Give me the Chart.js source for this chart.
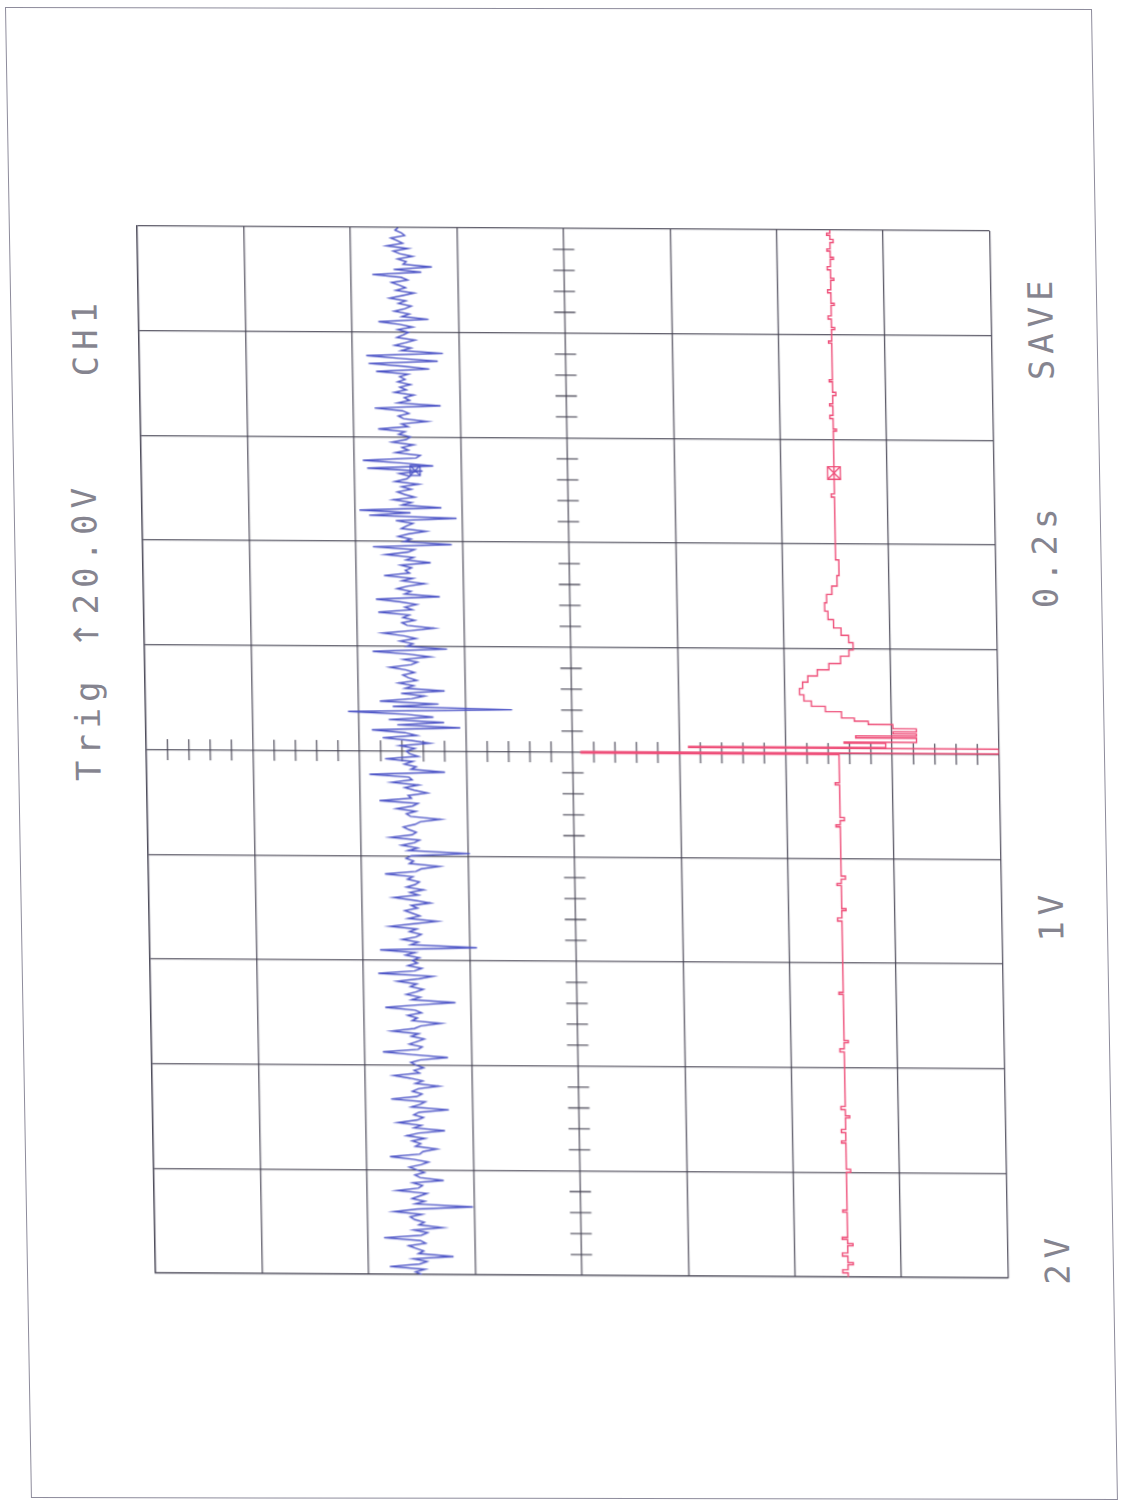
<!DOCTYPE html>
<html>
<head>
<meta charset="utf-8">
<title>CH1 / CH2 capture</title>
<script src="https://cdn.jsdelivr.net/npm/chart.js@4.4.1/dist/chart.umd.min.js"></script>
<style>
  html, body { margin: 0; padding: 0; background: #fff; }
  body { width: 1121px; height: 1502px; overflow: hidden; position: relative; }
  #frame { position: absolute; left: 5px; top: 7px; width: 1087px; height: 1491px;
    border: 1.3px solid #8e8c9c; box-sizing: border-box;
    transform-origin: 0 0; transform: matrix(1, 0.0018, 0.0174, 1, 0, 0); }
  /* the printout sits slightly askew on the page */
  #sheet { position: absolute; left: 0; top: 0; width: 1121px; height: 1502px;
    transform-origin: 137px 226px; transform: matrix(1, 0.0059, 0.0177, 1, 0, 0); }
  #plot { position: absolute; left: 123px; top: 212px; width: 879.5px; height: 1075px; }
  .lbl { position: absolute; font-family: "DejaVu Sans Mono", monospace; font-size: 34px;
    color: #85848f; white-space: pre; letter-spacing: 6px;
    transform: translate(-50%, -50%) rotate(-90deg); }
  .arrow { font-family: "DejaVu Sans", sans-serif; font-size: 34px; }
</style>
</head>
<body>
<div id="frame"></div>
<div id="sheet">
  <div id="plot"><canvas id="scope"></canvas></div>
  <div class="lbl" style="left:79px; top:632px;">Trig <span class="arrow">↑</span>20.0V</div>
  <div class="lbl" style="left:83px; top:337px;">CH1</div>
  <div class="lbl" style="left:1039px; top:1253px;">2V</div>
  <div class="lbl" style="left:1039px; top:910px;">1V</div>
  <div class="lbl" style="left:1039px; top:550px;">0.2s</div>
  <div class="lbl" style="left:1039px; top:322px;">SAVE</div>
</div>
<script>
// screen is 8 x 10 divisions; values below are in divisions
const VOLT_MIN = -4, VOLT_MAX = 4;
const TIME_MIN = 0, TIME_MAX = 10;

// upper trace, one sample every 0.025 div
const blueStep = 0.025;
const blueTrace = [
  1.50, 1.56, 1.47, 1.80, 1.52, 1.45, 1.58, 1.20, 1.53, 1.48,
  1.55, 1.62, 1.46, 1.51, 1.85, 1.50, 1.44, 1.57, 1.30, 1.52,
  1.47, 1.56, 1.60, 1.49, 1.75, 1.53, 1.01, 1.55, 1.46, 1.58,
  1.51, 1.44, 1.72, 1.52, 1.48, 1.57, 1.28, 1.50, 1.55, 1.46,
  1.53, 1.60, 1.49, 1.42, 1.56, 1.78, 1.50, 1.47, 1.34, 1.54,
  1.49, 1.57, 1.45, 1.62, 1.51, 1.26, 1.55, 1.48, 1.70, 1.52,
  1.46, 1.55, 1.50, 1.22, 1.57, 1.49, 1.44, 1.76, 1.52, 1.47,
  1.56, 1.50, 1.31, 1.53, 1.46, 1.58, 1.73, 1.49, 1.54, 1.45,
  1.52, 1.57, 1.48, 1.22, 1.55, 1.83, 1.50, 1.46, 1.58, 1.51,
  1.44, 1.56, 1.49, 1.74, 1.53, 1.47, 1.28, 1.55, 1.50, 1.59,
  1.46, 1.52, 1.80, 1.49, 1.14, 1.55, 1.47, 1.60, 1.51, 1.44,
  1.56, 1.50, 1.68, 1.48, 1.35, 1.86, 1.52, 1.45, 1.58, 1.49,
  1.54, 1.47, 1.60, 1.51, 1.84, 0.93, 1.55, 1.48, 1.63, 1.50,
  1.45, 1.56, 1.49, 1.74, 1.52, 1.30, 1.57, 1.46, 1.53, 1.60,
  1.48, 1.54, 1.36, 1.51, 1.70, 1.47, 1.55, 1.42, 1.58, 1.50,
  1.46, 1.57, 1.52, 1.78, 1.49, 1.44, 1.27, 1.55, 1.51, 1.58,
  1.53, 0.98, 1.56, 1.47, 1.62, 1.50, 1.45, 1.72, 1.52, 1.48,
  1.55, 1.60, 1.49, 1.44, 1.25, 1.53, 1.57, 1.48, 1.66, 1.51,
  1.46, 1.82, 1.52, 1.55, 1.37, 1.49, 1.58, 1.45, 1.70, 1.51,
  1.54, 1.91, 1.20, 1.52, 1.47, 1.58, 1.50, 1.76, 1.45, 1.53,
  1.56, 1.48, 1.62, 1.34, 1.51, 1.78, 1.46, 1.57, 1.88, 1.05,
  1.64, 1.20, 1.72, 1.30, 1.55, 2.10, 0.56, 1.68, 1.25, 1.80,
  1.50, 1.38, 1.60, 1.19, 1.56, 1.48, 1.62, 1.45, 1.53, 1.58,
  1.47, 1.55, 1.70, 1.50, 1.44, 1.57, 1.32, 1.52, 1.86, 1.16,
  1.54, 1.48, 1.60, 1.45, 1.56, 1.76, 1.50, 1.28, 1.53, 1.58,
  1.46, 1.57, 1.51, 1.80, 1.48, 1.55, 1.44, 1.60, 1.82, 1.22,
  1.55, 1.49, 1.62, 1.52, 1.36, 1.57, 1.47, 1.74, 1.50, 1.54,
  1.48, 1.58, 1.30, 1.53, 1.46, 1.72, 1.51, 1.45, 1.84, 1.10,
  1.55, 1.48, 1.60, 1.50, 1.34, 1.57, 1.52, 1.46, 1.62, 1.05,
  1.87, 1.48, 1.96, 1.19, 1.56, 1.47, 1.64, 1.44, 1.53, 1.60,
  1.47, 1.56, 1.40, 1.62, 1.51, 1.48, 1.58, 1.36, 1.88, 1.26,
  1.53, 1.92, 1.42, 1.38, 1.61, 1.49, 1.55, 1.44, 1.64, 1.51,
  1.47, 1.58, 1.52, 1.77, 1.49, 1.55, 1.31, 1.53, 1.58, 1.48,
  1.54, 1.80, 1.18, 1.58, 1.47, 1.52, 1.43, 1.61, 1.50, 1.56,
  1.46, 1.58, 1.51, 1.56, 1.48, 1.78, 1.28, 1.52, 1.85, 1.20,
  1.56, 1.87, 1.15, 1.54, 1.45, 1.60, 1.50, 1.41, 1.58, 1.52,
  1.47, 1.57, 1.43, 1.55, 1.75, 1.28, 1.53, 1.46, 1.60, 1.50,
  1.44, 1.56, 1.49, 1.64, 1.52, 1.41, 1.58, 1.49, 1.55, 1.62,
  1.47, 1.53, 1.80, 1.34, 1.60, 1.24, 1.51, 1.48, 1.56, 1.42,
  1.54, 1.60, 1.46, 1.66, 1.51, 1.56, 1.62, 1.49, 1.52, 1.58,
  1.55
];

// lower trace, held between samples (time, level)
const redTime = [
  0,
  0.04, 0.07, 0.12, 0.14, 0.20, 0.23, 0.30, 0.32, 0.36, 0.38,
  0.62, 0.64, 1.00, 1.03, 1.28, 1.30, 1.38, 1.41, 1.52, 1.54,
  1.60, 1.63, 2.15, 2.18, 2.24, 2.26, 2.70, 2.72, 3.40, 3.43,
  3.50, 3.52, 3.74, 3.76, 3.80, 3.83, 4.30, 4.32, 4.36, 4.39,
  4.70, 4.72,
  4.99, 5.005, 5.05, 5.06, 5.10, 5.11, 5.15, 5.17, 5.19, 5.21,
  5.24, 5.28, 5.31, 5.34, 5.40, 5.45, 5.50, 5.56, 5.62, 5.68,
  5.74, 5.80, 5.86, 5.93, 5.99, 6.06, 6.13, 6.20, 6.28, 6.36,
  6.44, 6.52, 6.60, 6.70, 6.85,
  7.45, 7.48, 8.08, 8.10, 8.20, 8.23, 8.32, 8.34, 8.42, 8.45,
  8.55, 8.57, 8.92, 8.94, 9.05, 9.07, 9.15, 9.18, 9.28, 9.30,
  9.40, 9.43, 9.52, 9.54, 9.62, 9.65, 9.72, 9.74, 9.80, 9.82,
  9.88, 9.91, 9.95, 9.97,
  10
];
const redLevel = [
  -2.50,
  -2.45, -2.50, -2.55, -2.50, -2.45, -2.50, -2.55, -2.50, -2.45, -2.50,
  -2.46, -2.50, -2.54, -2.50, -2.46, -2.50, -2.46, -2.50, -2.54, -2.50,
  -2.46, -2.50, -2.46, -2.50, -2.54, -2.50, -2.46, -2.50, -2.46, -2.50,
  -2.54, -2.50, -2.46, -2.50, -2.54, -2.50, -2.46, -2.50, -2.54, -2.50,
  -2.46, -2.50,
  -0.08, -4.00, -1.09, -2.94, -2.55, -3.23, -2.66, -3.23, -3.01, -3.23,
  -3.01, -2.78, -2.65, -2.53, -2.38, -2.25, -2.18, -2.14, -2.17, -2.22,
  -2.31, -2.42, -2.53, -2.61, -2.65, -2.61, -2.54, -2.47, -2.42, -2.39,
  -2.41, -2.46, -2.51, -2.53, -2.50,
  -2.47, -2.50, -2.53, -2.50, -2.47, -2.50, -2.47, -2.50, -2.53, -2.50,
  -2.47, -2.50, -2.47, -2.50, -2.53, -2.50, -2.47, -2.50, -2.53, -2.50,
  -2.47, -2.50, -2.53, -2.50, -2.47, -2.50, -2.53, -2.50, -2.47, -2.50,
  -2.53, -2.50, -2.47, -2.50,
  -2.50
];

// cursor marks on both traces
const cursorTime = 7.68;
const cursorBlue = 1.43;
const cursorRed = -2.50;

const BLUE = "#4a52c6";
const RED = "#ee4c77";
const GRID = "rgba(66,64,80,0.88)";

const bluePts = blueTrace.map((v, i) => ({ x: v, y: i * blueStep }));
const redPts = redTime.map((t, i) => ({ x: redLevel[i], y: t }));

// small ticks every 0.2 div along both centre lines
const centreTicks = {
  id: "centreTicks",
  beforeDatasetsDraw(chart) {
    const { ctx, scales: { x, y } } = chart;
    ctx.save();
    ctx.strokeStyle = GRID;
    ctx.lineWidth = 1.3;
    ctx.beginPath();
    for (let k = 1; k < 50; k++) {
      if (k % 5 === 0) continue;
      const py = y.getPixelForValue(k * 0.2);
      ctx.moveTo(x.getPixelForValue(0.1), py);
      ctx.lineTo(x.getPixelForValue(-0.1), py);
    }
    for (let k = 1; k < 40; k++) {
      if (k % 5 === 0) continue;
      const px = x.getPixelForValue(VOLT_MIN + k * 0.2);
      ctx.moveTo(px, y.getPixelForValue(4.9));
      ctx.lineTo(px, y.getPixelForValue(5.1));
    }
    ctx.stroke();
    ctx.restore();
  }
};

const axisGrid = { color: GRID, lineWidth: 1.3, drawTicks: false };

new Chart(document.getElementById("scope"), {
  type: "scatter",
  data: {
    datasets: [
      { data: bluePts, showLine: true, borderColor: BLUE, borderWidth: 1.4, pointRadius: 0 },
      { data: redPts, showLine: true, stepped: "after", borderColor: RED, borderWidth: 1.4, pointRadius: 0 },
      { data: [{ x: cursorBlue, y: cursorTime }], pointStyle: "rect", pointRadius: 7, borderColor: BLUE, borderWidth: 1.3, backgroundColor: "transparent" },
      { data: [{ x: cursorBlue, y: cursorTime }], pointStyle: "crossRot", pointRadius: 7, borderColor: BLUE, borderWidth: 1.3 },
      { data: [{ x: cursorRed, y: cursorTime }], pointStyle: "rect", pointRadius: 9, borderColor: RED, borderWidth: 1.3, backgroundColor: "transparent" },
      { data: [{ x: cursorRed, y: cursorTime }], pointStyle: "crossRot", pointRadius: 9, borderColor: RED, borderWidth: 1.3 }
    ]
  },
  options: {
    responsive: true,
    maintainAspectRatio: false,
    animation: false,
    layout: { padding: 14 },
    plugins: { legend: { display: false }, tooltip: { enabled: false } },
    scales: {
      x: {
        type: "linear", min: VOLT_MIN, max: VOLT_MAX, reverse: true,
        ticks: { display: false, stepSize: 1 },
        grid: axisGrid,
        border: { color: GRID, width: 1.3 }
      },
      y: {
        type: "linear", min: TIME_MIN, max: TIME_MAX,
        ticks: { display: false, stepSize: 1 },
        grid: axisGrid,
        border: { color: GRID, width: 1.3 }
      }
    }
  },
  plugins: [centreTicks]
});
</script>
</body>
</html>
